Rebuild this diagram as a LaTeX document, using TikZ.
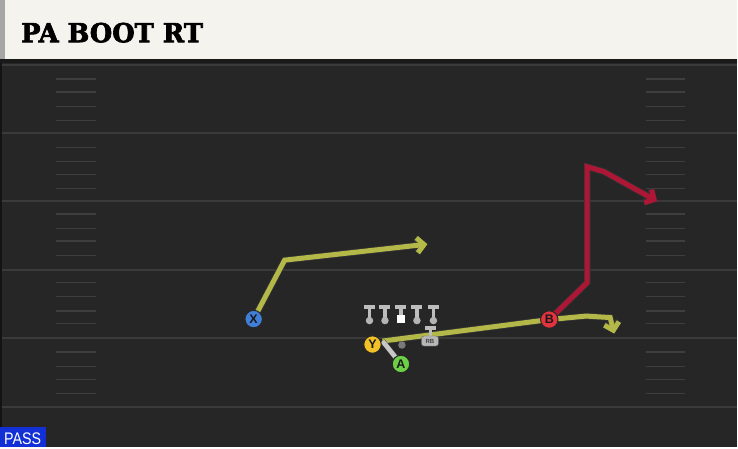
\documentclass[tikz,border=0pt]{standalone}
\usepackage{graphicx}
\usepackage{fontspec}
\setsansfont{Liberation Sans}
\newfontfamily\titlefont{DejaVu Serif}[BoldFeatures={FakeBold=2.5}]
\usetikzlibrary{arrows.meta}
\pgfdeclarelayer{bg}
\pgfdeclarelayer{routes}
\pgfsetlayers{bg,routes,main}
\definecolor{fieldbg}{HTML}{262626}
\definecolor{fieldline}{HTML}{3A3A3A}
\definecolor{hashc}{HTML}{3E3E3E}
\definecolor{cream}{HTML}{F5F3EE}
\definecolor{routeY}{HTML}{B3B848}
\definecolor{routeR}{HTML}{AD1634}
\definecolor{pX}{HTML}{3F7FD8}
\definecolor{pY}{HTML}{F2C127}
\definecolor{pA}{HTML}{6CCF45}
\definecolor{pB}{HTML}{E2333F}
\definecolor{linec}{HTML}{BDBDBD}
\definecolor{passblue}{HTML}{1230D6}
\tikzset{
  player/.style={circle, draw=black!85, line width=1pt, minimum size=17.5pt, inner sep=0pt,
    font=\sffamily\bfseries\fontsize{12.5}{12.5}\selectfont, text=black!90},
  route/.style={line width=5pt, -{Straight Barb[length=7pt,width=15pt]},
    preaction={draw=black!80, line width=6.6pt}},
  fline/.style={draw=fieldline, line width=2pt},
  hashline/.style={draw=hashc, line width=1.6pt},
  ldot/.style={circle, fill=linec!85!gray, inner sep=0pt, minimum size=7.5pt},
  tbar/.style={draw=linec, line width=4pt},
  tstem/.style={draw=linec, line width=3.6pt}
}
\begin{document}
\begin{tikzpicture}[x=1pt,y=-1pt]
\begin{pgfonlayer}{bg}
\fill[fieldbg] (0,0) rectangle (738,448);
\fill[black!90] (0,59) rectangle (738,63);
\fill[cream] (0,0) rectangle (738,59);
\fill[gray!70] (0,0) rectangle (5,59);
\draw[fieldline!120, line width=2pt] (1,63) -- (1,448);
\foreach \y in {65,133,201.5,270,338.5,408}
  \draw[fline] (2,\y) -- (738,\y);
\foreach \y in {79,92,106.7,120.7,147.7,161.7,174.7,188.7,214.3,229,241.3,255.7,282.7,297,311.7,324,352.7,367,380,394}{
  \draw[hashline] (56,\y) -- (96,\y);
  \draw[hashline] (647,\y) -- (686,\y);
}
\end{pgfonlayer}

% title
\node[anchor=base west, inner sep=0pt] (title) at (21,42.3)
  {\resizebox{182pt}{19.5pt}{\titlefont\bfseries PA BOOT RT}};

% pass label
\fill[passblue] (0,428) rectangle (46,448);
\node[anchor=base west, inner sep=0pt, text=white] (pass) at (4,445)
  {\resizebox{37pt}{11.7pt}{\sffamily PASS}};

% offensive line
\foreach \n/\x in {L1/370,L2/385.5,L4/417.5,L5/434}{
  \draw[tstem] (\x,307) -- (\x,320);
  \draw[tbar] (\x-5.5,307) -- (\x+5.5,307);
  \node[ldot] (\n) at (\x,321) {};
}
\draw[tstem] (401.5,307) -- (401.5,316);
\draw[tbar] (396,307) -- (407,307);
\node[fill=white, inner sep=0pt, minimum size=8pt] (C) at (401.5,319) {};

% running back
\draw[tstem] (431,328) -- (431,338);
\draw[tbar] (425.5,328) -- (436.5,328);
\node[rounded corners=2.5pt, fill=linec!90!gray, draw=black!60, line width=0.4pt, minimum width=17pt, minimum height=10pt, inner sep=0pt,
  font=\sffamily\bfseries\fontsize{6}{6}\selectfont, text=black!75] (RB) at (430.5,341.5) {RB};

% QB
\node[circle, fill=black!52, inner sep=0pt, minimum size=7.5pt] (QB) at (402.5,345.5) {};

% players
\node[player, fill=pX] (X) at (254,319.5) {X};
\node[player, fill=pY] (Y) at (373,345) {Y};
\node[player, fill=pA] (A) at (401.5,364.5) {A};
\node[player, fill=pB] (B) at (550,320) {B};

\coordinate (ys) at (383,341.5);
\coordinate (xe) at (428,244.5);
\coordinate (re) at (658,201.5);
\coordinate (ye) at (615,334);

\begin{pgfonlayer}{routes}
\draw[route, draw=routeY] (X.center) -- (285,260.5) -- (xe);
\draw[route, draw=routeR] (B.center) -- (588,283) -- (588,167) -- (605,172) -- (re);
\draw[route, draw=routeY] (ys) -- (B.center) -- (587,316.5) -- (611,318) -- (ye);
\draw[line width=4.5pt, draw=linec!85!white, preaction={draw=black!70, line width=5.5pt}] (A.center) -- (ys);
\end{pgfonlayer}
\end{tikzpicture}
\end{document}
